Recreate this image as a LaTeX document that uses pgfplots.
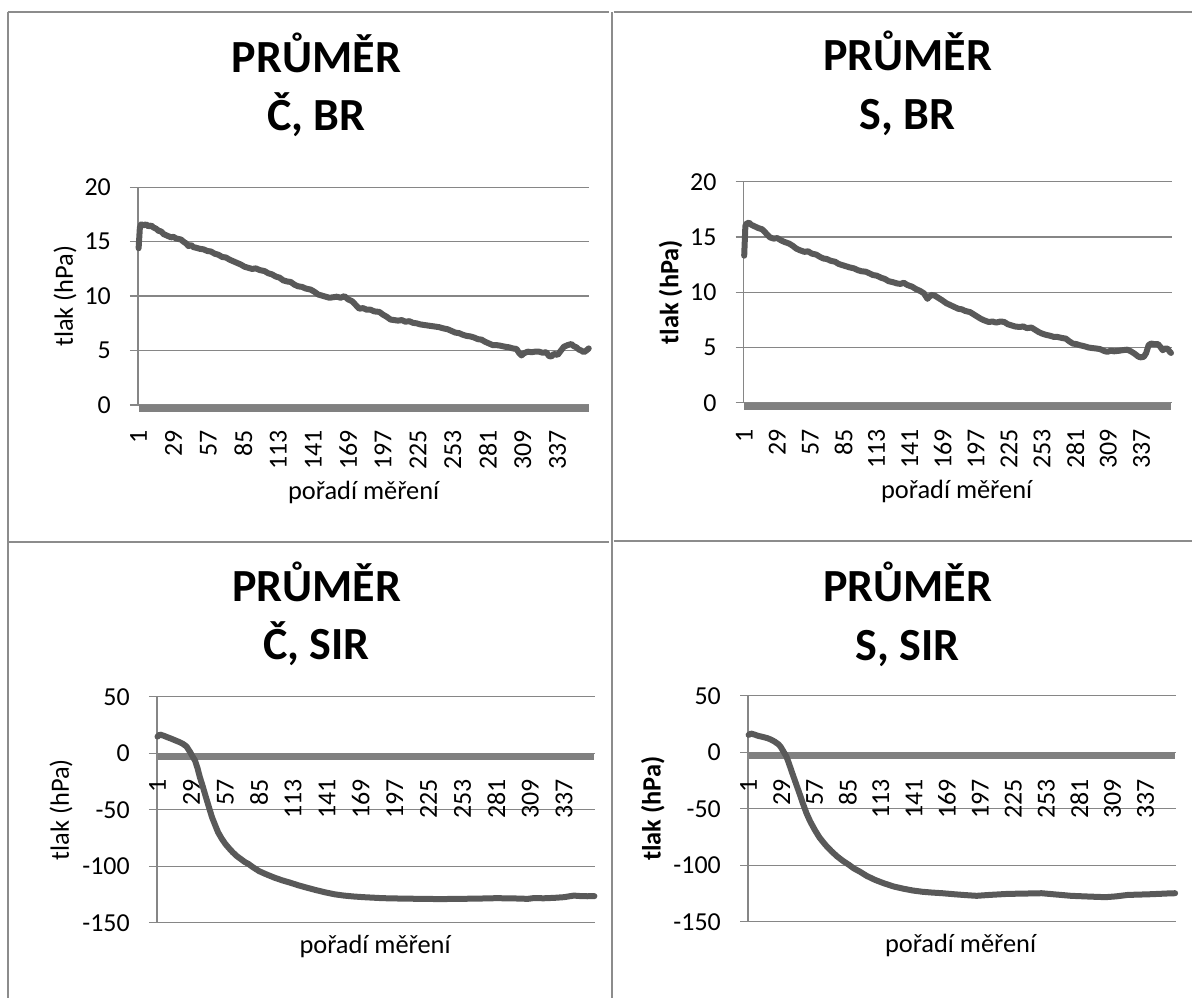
\documentclass[border=0pt]{standalone}
\usepackage{fontspec}
\setmainfont{Carlito}
\usepackage{pgfplots}
\pgfplotsset{compat=1.18}
\definecolor{linegray}{RGB}{89,89,89}
\definecolor{bandgray}{RGB}{128,128,128}
\definecolor{gridgray}{RGB}{134,134,134}
\definecolor{framegray}{RGB}{140,140,140}
\pgfplotsset{
  excelax/.style={
    scale only axis,
    axis x line*=bottom, axis y line*=left,
    x axis line style={draw=none},
    y axis line style={gridgray, line width=1.3bp},
    xmin=0.5, xmax=362.5,
    xtick={1,29,57,85,113,141,169,197,225,253,281,309,337},
    xticklabels={1,29,57,85,113,141,169,197,225,253,281,309,337},
    xtick style={draw=none},
    ytick style={gridgray, line width=1.3bp},
    tick align=outside, major tick length=8bp,
    ymajorgrids, major grid style={gridgray, line width=1.3bp},
    tick label style={font=\fontsize{26}{26}\selectfont},
    xticklabel style={rotate=90, anchor=east, inner sep=0pt},
    yticklabel style={anchor=east, inner sep=0pt},
    yticklabel shift=19bp,
    clip=false,
    label style={font=\fontsize{26.5}{26.5}\selectfont},
    title style={font=\bfseries\fontsize{46.2}{58.4}\selectfont, align=center, anchor=base},
  },
  dataline/.style={linegray, line width=6bp, line join=round, line cap=round},
  band/.style={bandgray, line width=7bp},
}
\begin{document}
\begin{tikzpicture}
\useasboundingbox (0,0) rectangle (1192bp,998bp);
% frames
\draw[framegray, line width=2bp] (7.5bp,0) -- (7.5bp,985.7bp);
\draw[framegray, line width=2bp] (612.3bp,0) -- (612.3bp,985.7bp);
\draw[framegray, line width=2bp] (7.5bp,985.7bp) -- (609bp,985.7bp);
\draw[framegray, line width=2bp] (613.5bp,985.7bp) -- (1192bp,985.7bp);
\draw[framegray, line width=2bp] (7.5bp,456.3bp) -- (609bp,456.3bp);
\draw[framegray, line width=2bp] (613.5bp,457.3bp) -- (1192bp,457.3bp);

% ---------- top left: Č, BR
\begin{axis}[excelax,
  at={(138bp,593bp)}, anchor=south west,
  width=451.4bp, height=217.7bp,
  ymin=0, ymax=20, ytick={0,5,10,15,20}, yticklabels={0,5,10,15,20},
  xticklabel shift=17bp,
  title={PRŮMĚR\\Č, BR},
  title style={at={(axis description cs:0.3954,1.2325)}},
  xlabel={pořadí měření},
  xlabel style={at={(axis description cs:0.5,-0.435)}, anchor=base},
  ylabel={tlak (hPa)},
  ylabel style={at={(axis description cs:-0.1617,0.5)}, anchor=center},
]
\addplot[band] coordinates {(1,-0.32) (362,-0.32)};
\addplot[dataline] coordinates {
(1,14.4)(2,16.3)(3,16.6)(5,16.5)(7,16.6)(9,16.4)(11,16.5)(13,16.3)(15,16.2)(17,16.0)(19,15.95)(21,15.7)(23,15.6)(25,15.5)(27,15.4)(29,15.45)(31,15.3)(33,15.25)(35,15.2)(37,15.0)(39,14.85)(41,14.6)(43,14.7)(45,14.5)(47,14.45)(50,14.35)(53,14.3)(56,14.15)(59,14.1)(62,13.9)(65,13.8)(68,13.6)(71,13.55)(74,13.35)(77,13.2)(80,13.05)(83,12.9)(86,12.7)(89,12.6)(92,12.5)(95,12.55)(98,12.4)(102,12.3)(105,12.1)(108,12.0)(111,11.8)(114,11.7)(117,11.45)(120,11.35)(123,11.3)(126,11.05)(129,10.9)(132,10.85)(135,10.7)(139,10.6)(142,10.4)(145,10.15)(148,10.05)(151,9.95)(154,9.85)(157,9.9)(160,9.95)(163,9.85)(166,10.0)(169,9.7)(172,9.55)(175,9.2)(178,8.85)(181,8.9)(184,8.75)(187,8.75)(190,8.6)(194,8.55)(197,8.3)(200,8.1)(203,7.85)(206,7.8)(209,7.75)(212,7.8)(215,7.65)(218,7.7)(221,7.55)(224,7.5)(227,7.4)(230,7.35)(233,7.3)(236,7.25)(239,7.2)(242,7.15)(245,7.05)(249,6.95)(252,6.8)(255,6.65)(258,6.6)(261,6.45)(264,6.35)(267,6.3)(270,6.2)(273,6.05)(276,6.0)(279,5.8)(282,5.65)(285,5.5)(288,5.5)(291,5.45)(295,5.35)(298,5.3)(301,5.2)(304,5.15)(306,4.8)(308,4.55)(310,4.75)(313,4.9)(316,4.85)(319,4.9)(322,4.9)(325,4.8)(328,4.85)(330,4.5)(332,4.45)(334,4.7)(337,4.6)(339,4.9)(342,5.35)(345,5.5)(348,5.6)(350,5.4)(352,5.3)(354,5.1)(356,5.0)(358,4.85)(360,5.0)(362,5.2)
};
\end{axis}

% ---------- top right: S, BR
\begin{axis}[excelax,
  at={(743.6bp,595.3bp)}, anchor=south west,
  width=428bp, height=221bp,
  ymin=0, ymax=20, ytick={0,5,10,15,20}, yticklabels={0,5,10,15,20},
  xticklabel shift=18bp,
  title={PRŮMĚR\\S, BR},
  title style={at={(axis description cs:0.383,1.2113)}},
  xlabel={pořadí měření},
  xlabel style={at={(axis description cs:0.4977,-0.435)}, anchor=base},
  ylabel={\bfseries tlak (hPa)},
  ylabel style={at={(axis description cs:-0.1706,0.5)}, anchor=center},
]
\addplot[band] coordinates {(1,-0.34) (362,-0.34)};
\addplot[dataline] coordinates {
(1,13.3)(2,16.0)(3,16.2)(5,16.3)(7,16.1)(10,15.95)(13,15.8)(16,15.7)(18,15.5)(21,15.15)(23,14.95)(26,14.85)(29,14.9)(32,14.7)(35,14.55)(39,14.4)(42,14.2)(45,13.95)(48,13.8)(52,13.65)(55,13.7)(58,13.5)(62,13.4)(65,13.2)(68,13.05)(71,13.0)(74,12.85)(78,12.75)(81,12.55)(84,12.45)(87,12.35)(90,12.25)(94,12.15)(97,12.0)(100,11.9)(104,11.85)(107,11.7)(110,11.55)(113,11.5)(117,11.3)(120,11.2)(123,11.0)(127,10.9)(130,10.8)(133,10.75)(136,10.85)(139,10.65)(143,10.5)(146,10.3)(150,10.1)(153,9.9)(156,9.4)(159,9.75)(162,9.7)(165,9.5)(168,9.3)(172,9.0)(175,8.85)(178,8.7)(182,8.5)(185,8.45)(188,8.3)(192,8.2)(195,8.0)(198,7.8)(201,7.6)(204,7.45)(208,7.3)(211,7.35)(214,7.25)(218,7.35)(221,7.3)(224,7.1)(227,7.0)(230,6.9)(234,6.85)(237,6.9)(240,6.75)(244,6.8)(247,6.6)(250,6.4)(253,6.25)(256,6.15)(260,6.05)(263,5.95)(266,5.95)(270,5.85)(273,5.8)(276,5.55)(279,5.35)(282,5.3)(285,5.2)(289,5.1)(292,5.0)(295,4.95)(299,4.9)(302,4.85)(305,4.7)(308,4.6)(311,4.7)(314,4.65)(318,4.7)(321,4.75)(325,4.8)(328,4.65)(331,4.45)(334,4.2)(336,4.1)(339,4.15)(341,4.5)(343,5.2)(345,5.35)(348,5.3)(351,5.3)(353,5.05)(355,4.75)(357,4.9)(359,4.9)(361,4.6)(362,4.5)
};
\end{axis}

% ---------- bottom left: Č, SIR
\begin{axis}[excelax,
  at={(156.9bp,75.3bp)}, anchor=south west,
  width=438.1bp, height=226bp,
  ymin=-150, ymax=50, ytick={-150,-100,-50,0,50}, yticklabels={-150,-100,-50,0,50},
  xticklabel shift=-152bp,
  title={PRŮMĚR\\Č, SIR},
  title style={at={(axis description cs:0.3645,1.136)}},
  xlabel={pořadí měření},
  xlabel style={at={(axis description cs:0.498,-0.135)}, anchor=base},
  ylabel={tlak (hPa)},
  ylabel style={at={(axis description cs:-0.2189,0.5)}, anchor=center},
]
\addplot[band] coordinates {(1,-3.2) (362,-3.2)};
\addplot[dataline] coordinates {
(1,14.7)(3,16.5)(6,15.5)(9,14.2)(12,13.0)(16,11.2)(19,9.9)(22,8.3)(25,5.9)(28,0.9)(30,-3)(32,-6.5)(34,-13)(36,-21.2)(38,-28)(41,-38.9)(43,-46)(46,-56.6)(48,-62)(51,-69.9)(54,-75.5)(57,-80.2)(60,-84)(63,-87.5)(66,-90.6)(70,-93.8)(73,-96.2)(76,-97.9)(80,-101)(85,-104.4)(90,-106.8)(95,-109)(98,-110.3)(104,-112.5)(111,-114.7)(117,-116.8)(123,-118.6)(131,-120.9)(139,-123)(147,-124.8)(155,-126)(163,-126.8)(171,-127.4)(180,-127.9)(187,-128.3)(200,-128.6)(218,-128.9)(235,-129.1)(250,-128.9)(265,-128.7)(281,-128.3)(295,-128.5)(307,-128.9)(312,-128.2)(320,-128.4)(329,-128)(337,-127.4)(345,-126)(350,-126.4)(356,-126.6)(362,-126.5)
};
\end{axis}

% ---------- bottom right: S, SIR
\begin{axis}[excelax,
  at={(748bp,76.3bp)}, anchor=south west,
  width=427.7bp, height=226bp,
  ymin=-150, ymax=50, ytick={-150,-100,-50,0,50}, yticklabels={-150,-100,-50,0,50},
  xticklabel shift=-151bp,
  title={PRŮMĚR\\S, SIR},
  title style={at={(axis description cs:0.3734,1.131)}},
  xlabel={pořadí měření},
  xlabel style={at={(axis description cs:0.497,-0.138)}, anchor=base},
  ylabel={\bfseries tlak (hPa)},
  ylabel style={at={(axis description cs:-0.2226,0.5)}, anchor=center},
]
\addplot[band] coordinates {(1,-3.2) (362,-3.2)};
\addplot[dataline] coordinates {
(1,15.3)(3,16.5)(6,15.6)(9,14.5)(13,13.5)(17,12.4)(20,11.1)(23,9.4)(26,7.2)(28,5.0)(30,1.5)(33,-3.8)(35,-9.5)(38,-18.6)(41,-27.5)(44,-36.3)(47,-45.5)(50,-54)(53,-61)(57,-68.7)(61,-75.5)(66,-82)(71,-87.5)(76,-92.3)(81,-96.3)(86,-99.7)(90,-102.8)(95,-105.6)(101,-109.5)(108,-113)(116,-116.2)(124,-118.9)(132,-120.8)(140,-122.4)(148,-123.5)(156,-124.2)(165,-124.8)(175,-125.7)(185,-126.5)(194,-127.1)(205,-126.3)(220,-125.4)(235,-125.1)(249,-124.8)(262,-126)(274,-127.1)(290,-127.8)(303,-128.3)(312,-127.6)(322,-126.3)(332,-126)(341,-125.7)(350,-125.3)(356,-125)(362,-124.8)
};
\end{axis}
\end{tikzpicture}
\end{document}
